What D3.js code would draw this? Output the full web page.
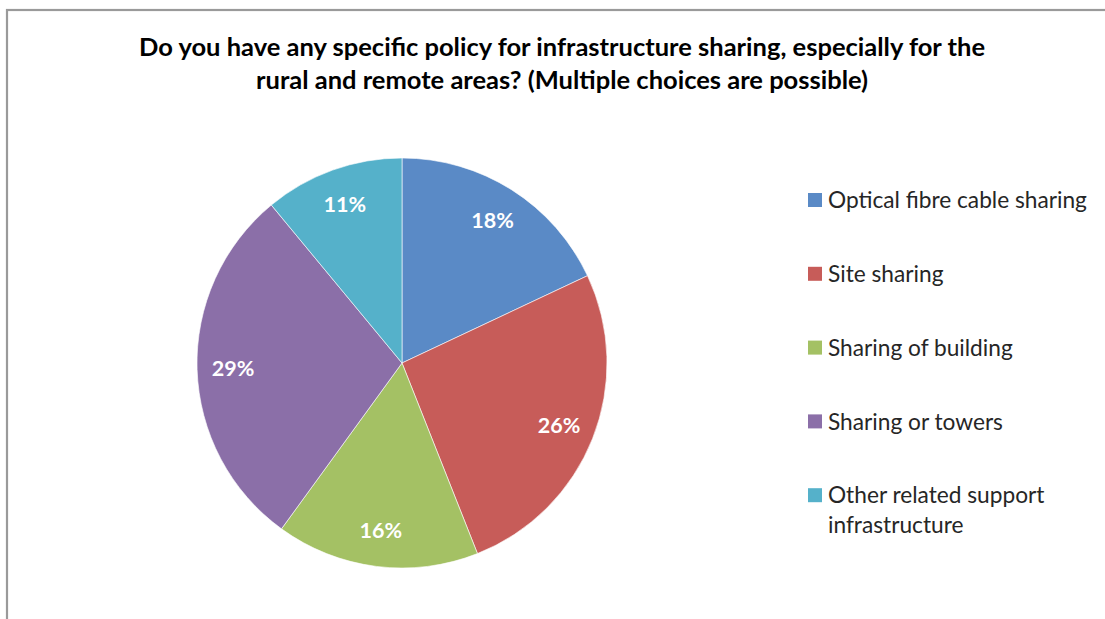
<!DOCTYPE html>
<html><head><meta charset="utf-8">
<script src="https://cdn.jsdelivr.net/npm/d3@7"></script>
<style>body{margin:0;background:#fff}svg{display:block}</style>
</head><body>
<svg id="c" width="1105" height="619"></svg>
<script>
const categories = ["Optical fibre cable sharing","Site sharing","Sharing of building","Sharing or towers","Other related support infrastructure"];
const values = [18,26,16,29,11];
const colors = ["#5A8AC6","#C75C59","#A4C164","#8B6FA8","#55B1CA"];
const titleLines = ["Do you have any specific policy for infrastructure sharing, especially for the","rural and remote areas? (Multiple choices are possible)"];
const legendLines = [["Optical fibre cable sharing"],["Site sharing"],["Sharing of building"],["Sharing or towers"],["Other related support","infrastructure"]];

const FONT = "Lato, 'Open Sans', sans-serif";
const svg = d3.select("#c");
svg.append("rect").attr("x",7).attr("y",10).attr("width",1200).attr("height",700)
  .attr("fill","none").attr("stroke","#9a9a9a").attr("stroke-width",2.2);

svg.append("g").selectAll("text").data(titleLines).join("text")
  .attr("x",562).attr("y",(d,i)=>56+i*33).attr("text-anchor","middle")
  .attr("font-family",FONT).attr("font-weight","bold").attr("font-size",25.5).attr("fill","#000")
  .text(d=>d);

const cx=402, cy=363, r=205;
const pie = d3.pie().sort(null).value(d=>d.v);
const arcs = pie(values.map((v,i)=>({v,i,name:categories[i]})));
const arc = d3.arc().innerRadius(0).outerRadius(r);
const labelArc = d3.arc().innerRadius(169).outerRadius(169);
const color = d3.scaleOrdinal().domain(categories).range(colors);
const g = svg.append("g").attr("transform",`translate(${cx},${cy})`);
g.selectAll("path").data(arcs).join("path").attr("d",arc)
  .attr("fill",d=>color(d.data.name)).attr("stroke","#fff").attr("stroke-width",0.6);
g.selectAll("text").data(arcs).join("text")
  .attr("transform",d=>`translate(${labelArc.centroid(d)})`)
  .attr("text-anchor","middle").attr("dy","0.36em")
  .attr("font-family",FONT).attr("font-weight","bold").attr("font-size",21.5).attr("fill","#fff")
  .text(d=>d.data.v+"%");

const lg = svg.append("g");
const rows = lg.selectAll("g").data(categories).join("g")
  .attr("transform",(d,i)=>`translate(808,${200+i*73.8})`);
rows.append("rect").attr("x",0).attr("y",-7).attr("width",14).attr("height",14).attr("fill",d=>color(d));
rows.append("text").attr("font-family",FONT).attr("font-size",22.7).attr("fill","#262626")
  .selectAll("tspan").data((d,i)=>legendLines[i]).join("tspan")
  .attr("x",20).attr("y",(d,j)=>j*30).attr("dy","0.36em").text(d=>d);
</script>
</body></html>
